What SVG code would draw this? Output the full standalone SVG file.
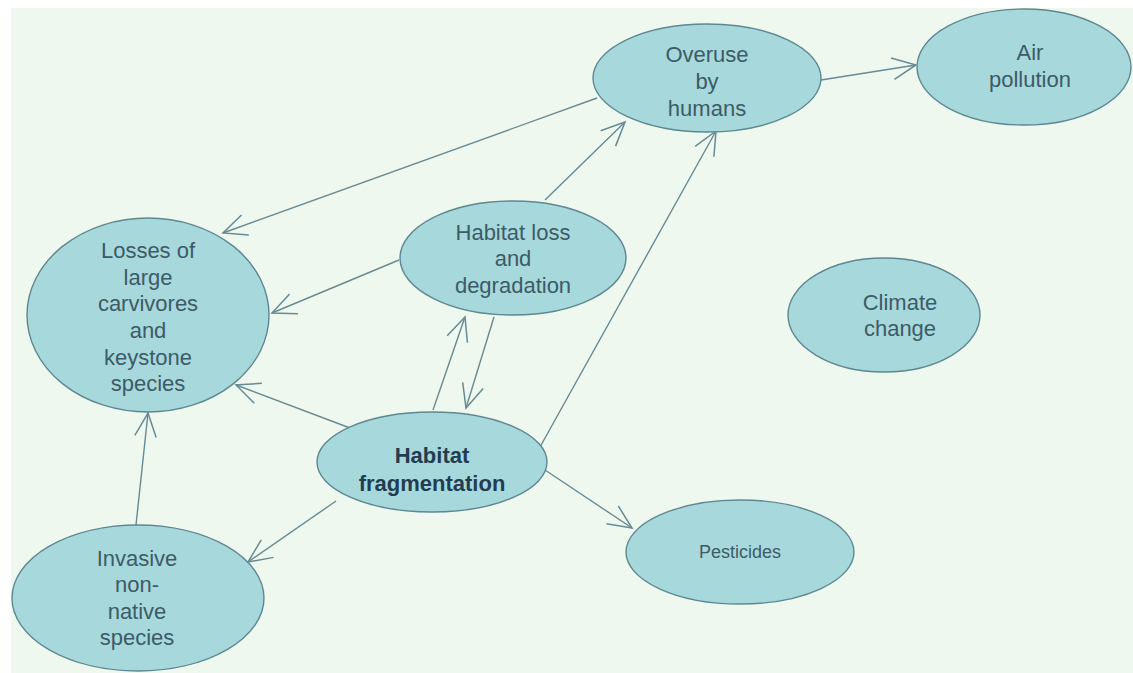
<svg xmlns="http://www.w3.org/2000/svg" width="1133" height="673" viewBox="0 0 1133 673">
<defs>
<style>
.node ellipse{fill:#a7d8db;stroke:#5d8791;stroke-width:1.4}
.node text{font-family:"Liberation Sans",Arial,sans-serif;font-size:22px;fill:#3d5b67;text-anchor:middle;dominant-baseline:central}
.node text.b{font-weight:bold;fill:#223d50}
.node text.s{font-size:18px}
.edges line{stroke:#678a93;stroke-width:1.4;fill:none}
</style>
<marker id="ah" markerUnits="userSpaceOnUse" markerWidth="30" markerHeight="30" viewBox="-24 -12 28 24" refX="0" refY="0" orient="auto">
<path d="M-22,-10 L0,0 L-22,10" fill="none" stroke="#678a93" stroke-width="1.4"/>
</marker>
</defs>
<rect x="0" y="0" width="1133" height="673" fill="#ffffff"/>
<rect x="11" y="8" width="1122" height="665" fill="#eff8ef"/>
<g class="edges">
<line x1="597" y1="98" x2="223" y2="233" marker-end="url(#ah)"/>
<line x1="399" y1="260" x2="272" y2="313" marker-end="url(#ah)"/>
<line x1="545" y1="200" x2="625" y2="122" marker-end="url(#ah)"/>
<line x1="433" y1="410" x2="465" y2="317" marker-end="url(#ah)"/>
<line x1="494" y1="317" x2="466" y2="408" marker-end="url(#ah)"/>
<line x1="540" y1="447" x2="716" y2="131" marker-end="url(#ah)"/>
<line x1="350" y1="428" x2="236" y2="385" marker-end="url(#ah)"/>
<line x1="136" y1="525" x2="148" y2="413" marker-end="url(#ah)"/>
<line x1="336" y1="501" x2="248" y2="562" marker-end="url(#ah)"/>
<line x1="545" y1="470" x2="632" y2="528" marker-end="url(#ah)"/>
<line x1="821" y1="80" x2="916" y2="65" marker-end="url(#ah)"/>
</g>
<g id="overuse" class="node">
<ellipse cx="707" cy="78" rx="114" ry="54"/>
<text x="707" y="54">Overuse</text>
<text x="707" y="81">by</text>
<text x="707" y="108">humans</text>
</g>
<g id="air" class="node">
<ellipse cx="1024" cy="67" rx="107" ry="58"/>
<text x="1030" y="52">Air</text>
<text x="1030" y="79">pollution</text>
</g>
<g id="losses" class="node">
<ellipse cx="148" cy="315" rx="121" ry="97"/>
<text x="148" y="250">Losses of</text>
<text x="148" y="277">large</text>
<text x="148" y="303">carvivores</text>
<text x="148" y="330">and</text>
<text x="148" y="357">keystone</text>
<text x="148" y="383">species</text>
</g>
<g id="habitatloss" class="node">
<ellipse cx="513" cy="258" rx="113" ry="57"/>
<text x="513" y="232">Habitat loss</text>
<text x="513" y="258">and</text>
<text x="513" y="285">degradation</text>
</g>
<g id="climate" class="node">
<ellipse cx="884" cy="315" rx="96" ry="57"/>
<text x="900" y="302">Climate</text>
<text x="900" y="328">change</text>
</g>
<g id="fragmentation" class="node">
<ellipse cx="432" cy="462" rx="115" ry="50"/>
<text class="b" x="432" y="455">Habitat</text>
<text class="b" x="432" y="483">fragmentation</text>
</g>
<g id="invasive" class="node">
<ellipse cx="138" cy="598" rx="126" ry="73"/>
<text x="137" y="558">Invasive</text>
<text x="137" y="584">non-</text>
<text x="137" y="611">native</text>
<text x="137" y="637">species</text>
</g>
<g id="pesticides" class="node">
<ellipse cx="740" cy="552" rx="114" ry="52"/>
<text class="s" x="740" y="552">Pesticides</text>
</g>
</svg>
